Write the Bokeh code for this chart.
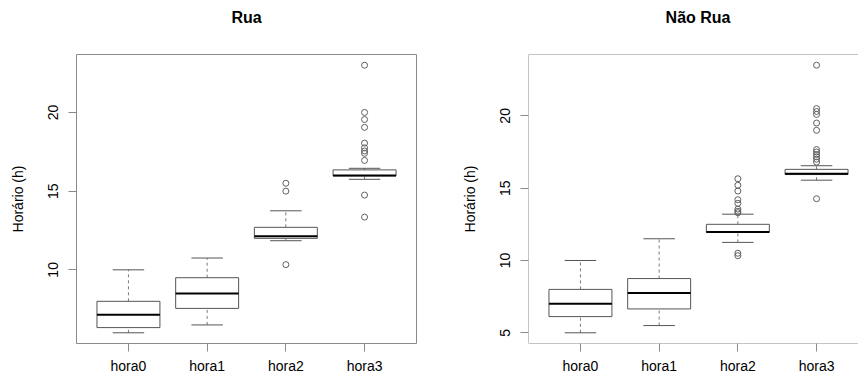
import numpy as np
from bokeh.plotting import figure
from bokeh.layouts import row
from bokeh.models import ColumnDataSource, FixedTicker, Span, Range1d, Title
from bokeh.embed import file_html
from bokeh.resources import INLINE

categories = ["hora0", "hora1", "hora2", "hora3"]
y_ticks = [5, 10, 15, 20]

# Painel "Rua"
rua_lower = [6.0, 6.5, 11.85, 15.75]
rua_q1 = [6.33, 7.55, 12.0, 15.97]
rua_median = [7.15, 8.5, 12.13, 16.0]
rua_q3 = [8.0, 9.5, 12.7, 16.35]
rua_upper = [10.0, 10.75, 13.75, 16.45]
rua_out_hora2 = [15.5, 15.0, 10.33]
rua_out_hora3 = [23.0, 20.0, 19.55, 19.05, 18.05, 17.75, 17.55, 17.4, 16.95, 14.75, 13.35]

# Painel "Não Rua"
nrua_lower = [5.0, 5.5, 11.25, 15.55]
nrua_q1 = [6.12, 6.65, 11.95, 15.94]
nrua_median = [7.0, 7.75, 11.97, 16.0]
nrua_q3 = [8.0, 8.75, 12.5, 16.3]
nrua_upper = [10.0, 11.5, 13.2, 16.55]
nrua_out_hora2 = [15.65, 15.2, 14.8, 14.2, 13.95, 13.55, 13.4, 13.3, 10.5, 10.33]
nrua_out_hora3 = [23.5, 20.5, 20.3, 20.1, 19.5, 19.0, 17.67, 17.5, 17.33, 17.17, 17.0, 16.8, 14.27]

FONT = "Liberation Sans"
BOX_COL = "#555555"
FRAME_COL = "#8a8a8a"


def panel(title, lower, q1, med, q3, upper, outliers, border_left, x_end, title_align, title_offset, full_frame):
    xs = np.arange(1, len(categories) + 1, dtype=float)
    allvals = list(lower) + list(upper) + [v for o in outliers for v in o]
    lo, hi = min(allvals), max(allvals)
    pad = 0.04 * (hi - lo)
    y0, y1 = lo - pad, hi + pad
    x0 = 0.5 - 0.04 * len(categories)

    p = figure(width=429, height=376, output_backend="svg", toolbar_location=None,
               x_range=Range1d(x0, x_end), y_range=Range1d(y0, y1), title=None,
               min_border_left=border_left, min_border_right=0 if not full_frame else 13,
               min_border_top=54, min_border_bottom=32)
    p.xgrid.visible = False
    p.ygrid.visible = False
    p.background_fill_color = "white"
    p.border_fill_color = "white"

    if full_frame:
        p.outline_line_color = FRAME_COL
    else:
        p.outline_line_color = None
        for loc, dim in [(y1, "width"), (y0, "width")]:
            p.add_layout(Span(location=loc, dimension=dim, line_color=FRAME_COL, line_width=1))
        p.add_layout(Span(location=x0, dimension="height", line_color=FRAME_COL, line_width=1))

    # spacer between title and frame
    p.add_layout(Title(text=" ", text_font_size="1px", standoff=21, text_color="white"), "above")
    p.add_layout(Title(text=title, align=title_align, offset=title_offset, text_font=FONT,
                       text_font_size="16px", text_font_style="bold", text_color="black",
                       standoff=10), "above")

    src = ColumnDataSource(dict(
        x=xs, left=xs - 0.4, right=xs + 0.4, cl=xs - 0.2, cr=xs + 0.2,
        lower=lower, q1=q1, med=med, q3=q3, upper=upper))

    # whiskers
    p.segment(x0="x", x1="x", y0="q3", y1="upper", source=src, line_color="#7a7a7a",
              line_dash="3 3", line_width=1)
    p.segment(x0="x", x1="x", y0="lower", y1="q1", source=src, line_color="#7a7a7a",
              line_dash="3 3", line_width=1)
    # staples
    p.segment(x0="cl", x1="cr", y0="upper", y1="upper", source=src, line_color=BOX_COL, line_width=1)
    p.segment(x0="cl", x1="cr", y0="lower", y1="lower", source=src, line_color=BOX_COL, line_width=1)
    # boxes
    p.quad(left="left", right="right", bottom="q1", top="q3", source=src,
           fill_color="white", line_color=BOX_COL, line_width=1)
    # medians
    p.segment(x0="left", x1="right", y0="med", y1="med", source=src, line_color="black", line_width=2)

    ox, oy = [], []
    for i, o in enumerate(outliers):
        ox += [xs[i]] * len(o)
        oy += list(o)
    p.scatter(ox, oy, marker="circle", size=6, fill_color=None, line_color="#606060", line_width=1)

    p.xaxis.ticker = FixedTicker(ticks=list(xs))
    p.xaxis.major_label_overrides = {int(x): c for x, c in zip(xs, categories)}
    p.yaxis.ticker = FixedTicker(ticks=y_ticks)
    p.yaxis.major_label_orientation = "vertical"
    p.yaxis.axis_label = "Horário (h)"
    p.yaxis.axis_label_text_font_style = "normal"
    p.yaxis.axis_label_text_font = FONT
    p.yaxis.axis_label_text_font_size = "14px"
    p.yaxis.axis_label_text_color = "black"
    p.yaxis.axis_label_standoff = 20
    for ax in (p.xaxis, p.yaxis):
        ax.axis_line_color = None
        ax.major_tick_line_color = FRAME_COL
        ax.major_tick_out = 8
        ax.major_tick_in = 0
        ax.minor_tick_line_color = None
        ax.major_label_text_font = FONT
        ax.major_label_text_font_size = "14px"
        ax.major_label_text_color = "black"
    p.xaxis.major_label_standoff = 6
    p.yaxis.major_label_standoff = 10
    return p


p1 = panel("Rua", rua_lower, rua_q1, rua_median, rua_q3, rua_upper,
           [[], [], rua_out_hora2, rua_out_hora3], 76, 4.66, "center", 0, True)
p2 = panel("Não Rua", nrua_lower, nrua_q1, nrua_median, nrua_q3, nrua_upper,
           [[], [], nrua_out_hora2, nrua_out_hora3], 99, 0.34 + 330 / (340 / 4.32), "right", 128, False)

layout = row(p1, p2, spacing=0)
open("out.html", "w").write(file_html(layout, INLINE))
